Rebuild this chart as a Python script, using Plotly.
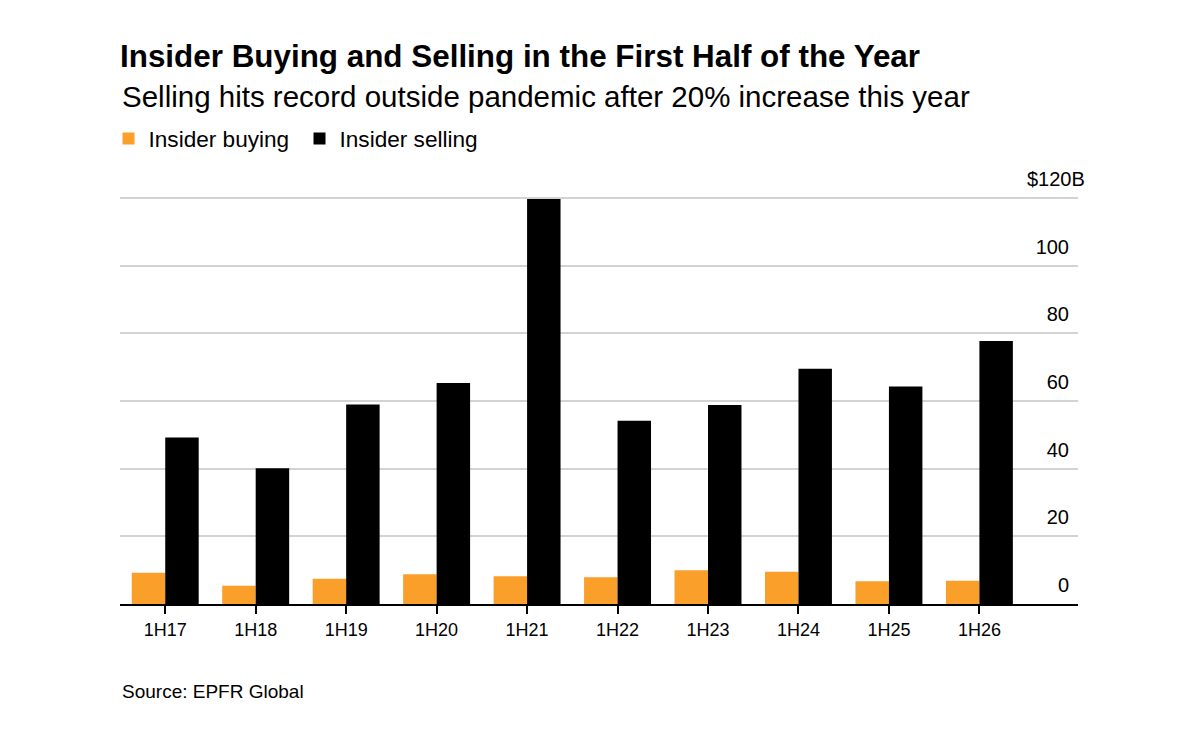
import plotly.graph_objects as go

categories = ["1H17", "1H18", "1H19", "1H20", "1H21", "1H22", "1H23", "1H24", "1H25", "1H26"]
insider_buying = [9.2, 5.4, 7.5, 8.8, 8.2, 7.9, 10.0, 9.5, 6.7, 6.9]
insider_selling = [49.2, 40.1, 59.0, 65.3, 119.7, 54.2, 58.8, 69.5, 64.3, 77.7]
y_tickvals = [0, 20, 40, 60, 80, 100, 120]
y_ticktext = ["0", "20", "40", "60", "80", "100", ""]
y_top_label = "$120B"
y_top_value = 120

FONT = "Liberation Sans, Arial, Helvetica, sans-serif"

fig = go.Figure()
fig.add_trace(go.Bar(x=categories, y=insider_buying, name="Insider buying",
                     marker=dict(color="#F99F2A", line=dict(width=0))))
fig.add_trace(go.Bar(x=categories, y=insider_selling, name="Insider selling",
                     marker=dict(color="#000000", line=dict(width=0))))

fig.update_layout(
    width=1200, height=743,
    margin=dict(l=120, r=122, t=197, b=139),
    paper_bgcolor="white", plot_bgcolor="white",
    barmode="group", bargap=0.26, bargroupgap=0,
    font=dict(family=FONT, color="#000000"),
    title=dict(text="<b>Insider Buying and Selling in the First Half of the Year</b>",
               x=0, xref="paper", xanchor="left",
               y=1 - 56 / 743, yref="container", yanchor="middle",
               font=dict(size=31.4, family=FONT, color="#000000")),
    showlegend=True,
    legend=dict(orientation="h", x=-0.012, xanchor="left", y=1.143, yanchor="middle",
                font=dict(size=22.6, family=FONT, color="#000000"),
                entrywidth=146, entrywidthmode="pixels",
                bgcolor="rgba(0,0,0,0)", itemclick=False, traceorder="normal"),
    xaxis=dict(type="category", range=[-0.5, 10.09], showgrid=False,
               showline=True, linecolor="#000000", linewidth=2,
               ticks="outside", ticklen=8, tickwidth=1.5, tickcolor="#000000",
               tickfont=dict(size=18, family=FONT, color="#000000")),
    yaxis=dict(range=[0, 120.3], side="right", tickvals=y_tickvals, ticktext=y_ticktext,
               ticklabelposition="inside", ticklabelshift=-19, ticklabelstandoff=6,
               ticklabeloverflow="allow",
               showgrid=True, gridcolor="#d3d3d3", gridwidth=1.5,
               zeroline=False, showline=False, ticks="",
               tickfont=dict(size=20, family=FONT, color="#000000")),
    annotations=[
        dict(text="Selling hits record outside pandemic after 20% increase this year",
             xref="paper", yref="paper", x=0, y=1 + (198 - 98) / 406,
             xanchor="left", yanchor="middle", showarrow=False,
             font=dict(size=29.5, family=FONT, color="#000000")),
        dict(text="Source: EPFR Global",
             xref="paper", yref="paper", x=0, y=-(691 - 604) / 406,
             xanchor="left", yanchor="middle", showarrow=False,
             font=dict(size=19, family=FONT, color="#000000")),
        dict(text=y_top_label, xref="paper", yref="y", x=1, y=y_top_value,
             xanchor="right", yanchor="middle", xshift=9, yshift=19,
             showarrow=False, font=dict(size=20, family=FONT, color="#000000")),
    ],
)

fig.write_html("out.html")
